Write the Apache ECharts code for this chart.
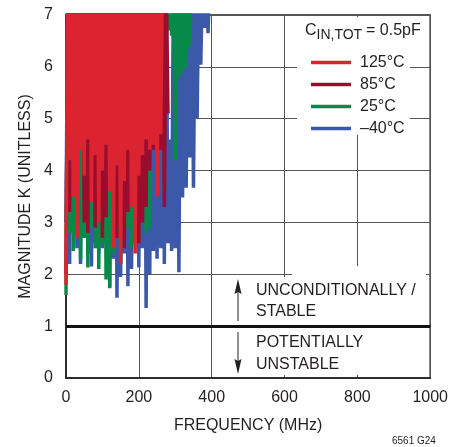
<!DOCTYPE html>
<html>
<head>
<meta charset="utf-8">
<script src="https://cdn.jsdelivr.net/npm/echarts@6/dist/echarts.min.js"></script>
<style>
html,body{margin:0;padding:0;background:#fff;}
#chart{width:451px;height:447px;}
</style>
</head>
<body>
<div id="chart"></div>
<script>
// ---- data ----
const freqMHz = [0,5,10,15,20,25,30,35,40,45,50,55,60,65,70,75,80,85,90,95,100,105,110,115,120,125,130,135,140,145,150,155,160,165,170,175,180,185,190,195,200,205,210,215,220,225,230,235,240,245,250,255,260,265,270,275,280,285,290,295,300,305,310,315,320,325,330,335,340,345,350,355,360,365,370,375,380,385,390,395];

// K at each frequency point (peaks above 7 are clipped by the axis)
const k125 = [1.8,7.8,4.2,7.8,3.5,7.8,2.7,7.8,4.4,7.8,3.9,7.8,4.6,7.8,3.4,7.8,4.3,7.8,3.0,7.8,4.0,7.8,4.5,7.8,3.6,7.8,2.5,7.8,4.1,7.8,2.2,7.8,3.8,7.8,4.4,7.8,3.3,7.8,2.4,7.8,3.9,7.8,4.3,7.8,4.6,7.8,4.4,7.8,4.5,7.8,3.5,7.8,4.7,7.8];
const k85 = [2.0,7.8,3.2,7.8,4.5,7.8,3.5,7.8,4.6,7.8,3.0,7.8,2.8,7.8,3.6,7.8,2.9,7.8,3.3,7.8,2.7,7.8,3.1,7.8,4.4,7.8,3.5,7.8,2.7,7.8,3.0,7.8,2.5,7.8,3.2,7.8,4.3,7.8,3.5,7.8,2.6,7.8,3.0,7.8,3.3,7.8,4.0,7.8,4.4,7.8,4.2,7.8,4.4,7.8,3.3,7.8,5.1];
const k25 = [1.6,7.8,2.8,7.8,2.45,7.8,3.0,7.8,2.3,7.8,2.7,7.8,2.13,7.8,2.9,7.8,2.5,7.8,2.1,7.8,2.6,7.8,1.9,7.8,1.75,7.8,2.4,7.8,2.8,7.8,2.2,7.8,2.6,7.8,2.9,7.8,2.5,7.8,3.1,7.8,2.7,7.8,3.3,7.8,2.8,7.8,2.9,7.8,4.5,7.8,4.4,7.8,4.6,7.8,6.7,7.8,6.7,7.8,6.6,7.8,4.2,7.8,5.8,7.8,5.9,7.8,6.0,7.8,6.4,7.8];
const kMinus40 = [3.0,7.8,2.2,7.8,2.9,7.8,2.5,7.8,2.2,7.8,2.7,7.8,2.4,7.8,2.15,7.8,2.6,7.8,2.4,7.8,2.5,7.8,2.9,7.8,1.73,7.8,2.3,7.8,1.55,7.8,1.95,7.8,2.4,7.8,1.77,7.8,2.1,7.8,2.6,7.8,2.13,7.8,2.5,7.8,1.35,7.8,2.0,7.8,2.45,7.8,2.3,7.8,2.5,7.8,2.2,7.8,2.6,4.6,2.45,7.8,2.5,7.8,2.04,7.8,3.48,7.8,3.67,7.8,4.25,7.8,3.67,7.8,5.0,7.8,6.04,7.8,6.75,7.8,6.65,7.8];

const seriesNames = ['125°C','85°C','25°C','–40°C'];
const stabilityBoundaryK = 1;
const xTicks = {min:0, max:1000, step:200};
const yTicks = {min:0, max:7, step:1};

// ---- styling ----
const FONT = '"Liberation Sans", Arial, Helvetica, sans-serif';
const INK = '#231f20';
const C_RED = '#dc2330', C_DARKRED = '#9b0d2f', C_GREEN = '#078a49', C_BLUE = '#3c58a8';

function pairs(arr){ return arr.map((k,i)=>[freqMHz[i], k]); }

function lineSeries(name, arr, color, extra){
  return Object.assign({
    name: name, type:'line', data: pairs(arr), color: color,
    symbol:'none', showSymbol:false, clip:true, silent:true, z:2,
    lineStyle:{color: color, width:3.5, join:'bevel'},
    itemStyle:{color: color}
  }, extra || {});
}

const chart = echarts.init(document.getElementById('chart'), null, {renderer:'canvas'});
const option = {
  animation:false,
  backgroundColor:'#fff',
  textStyle:{fontFamily:FONT},
  grid:{left:66, right:20, top:15, bottom:69, show:true, borderColor:INK, borderWidth:1.5, backgroundColor:'transparent'},
  xAxis:{
    type:'value', min:xTicks.min, max:xTicks.max, interval:xTicks.step,
    axisLine:{show:true, onZero:false, lineStyle:{color:INK, width:1.5}},
    axisTick:{show:false},
    axisLabel:{margin:12, fontSize:16, color:INK, fontFamily:FONT, formatter:(v)=>String(v)},
    splitLine:{show:true, lineStyle:{color:'#555', width:1}},
    name:'FREQUENCY (MHz)', nameLocation:'middle', nameGap:40,
    nameTextStyle:{fontSize:16, color:INK, fontFamily:FONT}
  },
  yAxis:{
    type:'value', min:yTicks.min, max:yTicks.max, interval:yTicks.step,
    axisLine:{show:true, onZero:false, lineStyle:{color:INK, width:1.5}},
    axisTick:{show:false},
    axisLabel:{margin:13, fontSize:16, color:INK, fontFamily:FONT},
    splitLine:{show:true, lineStyle:{color:'#555', width:1}},
    name:'MAGNITUDE K (UNITLESS)', nameLocation:'middle', nameGap:29, nameRotate:90,
    nameTextStyle:{fontSize:16, color:INK, fontFamily:FONT}
  },
  legend:{
    data: seriesNames, orient:'vertical', left:306, top:47,
    icon:'rect', itemWidth:40, itemHeight:3.5, itemGap:1, selectedMode:false,
    textStyle:{fontSize:16, color:INK, fontFamily:FONT, lineHeight:21, padding:[0,0,0,4]}
  },
  graphic:[
    // white panels behind legend and annotation (grid lines are interrupted there)
    {type:'rect', z:1, silent:true, shape:{x:297, y:17, width:113, height:118}, style:{fill:'#fff'}},
    {type:'rect', z:1, silent:true, shape:{x:292, y:266, width:134, height:109}, style:{fill:'#fff'}},
    {type:'rect', z:1, silent:true, shape:{x:232, y:277, width:60, height:98}, style:{fill:'#fff'}},
    // legend title C_IN,TOT = 0.5pF
    {type:'text', z:5, style:{text:'C', x:305, y:30.5, fill:INK, fontSize:16, fontFamily:FONT, textVerticalAlign:'middle', verticalAlign:'middle'}},
    {type:'text', z:5, style:{text:'IN,TOT', x:316.5, y:35.5, fill:INK, fontSize:14, fontFamily:FONT, textVerticalAlign:'middle', verticalAlign:'middle'}},
    {type:'text', z:5, style:{text:'= 0.5pF', x:366, y:30.5, fill:INK, fontSize:16, fontFamily:FONT, textVerticalAlign:'middle', verticalAlign:'middle'}},
    // stability annotations
    {type:'text', z:5, style:{text:'UNCONDITIONALLY /', x:256, y:291, fill:INK, fontSize:16, fontFamily:FONT, textVerticalAlign:'middle', verticalAlign:'middle'}},
    {type:'text', z:5, style:{text:'STABLE', x:256, y:312, fill:INK, fontSize:16, fontFamily:FONT, textVerticalAlign:'middle', verticalAlign:'middle'}},
    {type:'text', z:5, style:{text:'POTENTIALLY', x:256, y:343, fill:INK, fontSize:16, fontFamily:FONT, textVerticalAlign:'middle', verticalAlign:'middle'}},
    {type:'text', z:5, style:{text:'UNSTABLE', x:256, y:365, fill:INK, fontSize:16, fontFamily:FONT, textVerticalAlign:'middle', verticalAlign:'middle'}},
    // arrows
    {type:'line', z:5, shape:{x1:238, y1:292, x2:238, y2:321}, style:{stroke:INK, lineWidth:1}},
    {type:'polygon', z:5, shape:{points:[[238,279],[234.5,294],[238,292],[241.5,294]]}, style:{fill:INK}},
    {type:'line', z:5, shape:{x1:238, y1:332, x2:238, y2:361}, style:{stroke:INK, lineWidth:1}},
    {type:'polygon', z:5, shape:{points:[[238,374],[234.5,359],[238,361],[241.5,359]]}, style:{fill:INK}},
    // figure code
    {type:'text', z:5, style:{text:'6561 G24', x:392, y:441, fill:INK, fontSize:10, fontFamily:FONT, textVerticalAlign:'middle', verticalAlign:'middle'}}
  ],
  series:[
    lineSeries(seriesNames[3], kMinus40, C_BLUE, {
      markLine:{silent:true, symbol:['none','none'], label:{show:false},
        lineStyle:{color:'#111', width:3, type:'solid'}, emphasis:{disabled:true},
        data:[{yAxis:stabilityBoundaryK}]}
    }),
    lineSeries(seriesNames[2], k25, C_GREEN),
    lineSeries(seriesNames[1], k85, C_DARKRED),
    lineSeries(seriesNames[0], k125, C_RED)
  ]
};
chart.setOption(option);
</script>
</body>
</html>
